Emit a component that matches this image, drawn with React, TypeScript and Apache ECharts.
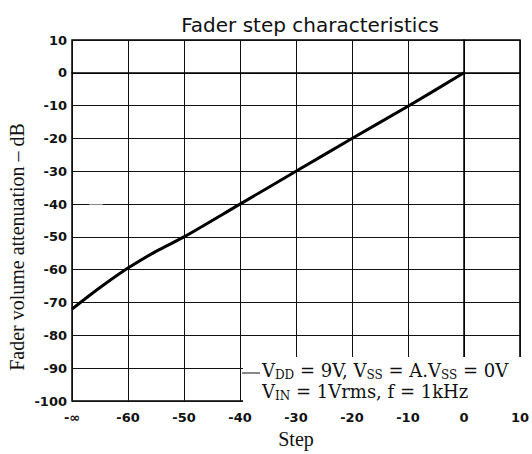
import React, { useEffect, useRef } from "react";
import * as echarts from "echarts";

const steps: number[] = [-70, -67, -64, -60, -55, -50, -40, -30, -20, -10, 0];
const attenuation: number[] = [-72, -68.0, -64.2, -59.5, -54.4, -50, -40, -30, -20, -10.2, 0];
const xTicks = { min: -70, max: 10, interval: 10 };
const yTicks = { min: -100, max: 10, interval: 10 };
const titleText = "Fader step characteristics";
const yName = "Fader volume attenuation \u2013 dB";
const xName = "Step";

export default function App() {
  const ref = useRef<HTMLDivElement>(null);
  useEffect(() => {
    if (!ref.current) return;
    const chart = echarts.init(ref.current, undefined, { renderer: "svg" });
    const tickFont = {
      fontFamily: "DejaVu Sans",
      fontSize: 13,
      fontWeight: "bold" as const,
      color: "#111",
    };
    chart.setOption({
      animation: false,
      backgroundColor: "#fff",
      title: {
        text: titleText,
        left: 305,
        top: 10,
        textAlign: "center",
        textStyle: {
          fontFamily: "DejaVu Sans",
          fontSize: 20,
          fontWeight: "normal",
          color: "#111",
        },
      },
      grid: {
        left: 72,
        right: 7,
        top: 40,
        bottom: 48,
        show: true,
        borderColor: "#000",
        borderWidth: 1.5,
      },
      xAxis: {
        type: "value",
        min: xTicks.min,
        max: xTicks.max,
        interval: xTicks.interval,
        name: xName,
        nameLocation: "middle",
        nameGap: 28,
        nameTextStyle: { fontFamily: "Liberation Serif", fontSize: 20, color: "#111" },
        axisLine: { show: true, lineStyle: { color: "#000", width: 1.5 } },
        axisTick: { show: false },
        axisLabel: {
          ...tickFont,
          margin: 10,
          formatter: (v: number) => (v === xTicks.min ? "-\u221e" : String(v)),
        },
        splitLine: { show: true, lineStyle: { color: "#111", width: 1 } },
      },
      yAxis: {
        type: "value",
        min: yTicks.min,
        max: yTicks.max,
        interval: yTicks.interval,
        axisLine: { show: true, lineStyle: { color: "#000", width: 1.5 } },
        axisTick: { show: false },
        axisLabel: { ...tickFont, margin: 5 },
        splitLine: { show: true, lineStyle: { color: "#111", width: 1 } },
      },
      series: [
        {
          type: "line",
          data: steps.map((s, i) => [s, attenuation[i]]),
          smooth: 0.3,
          showSymbol: false,
          lineStyle: { color: "#000", width: 3 },
          z: 3,
        },
      ],
      graphic: [
        {
          type: "text",
          x: 17,
          y: 247,
          rotation: Math.PI / 2,
          style: {
            text: yName,
            fontFamily: "Liberation Serif",
            fontSize: 20,
            fill: "#111",
            align: "center",
            verticalAlign: "middle",
          },
        },
        {
          type: "rect",
          z: 10,
          shape: { x: 89, y: 204.5, width: 14, height: 3 },
          style: { fill: "#fff", stroke: "none" },
        },
        {
          type: "rect",
          z: 10,
          shape: { x: 243, y: 357, width: 281, height: 48 },
          style: { fill: "#fff", stroke: "none" },
        },
        {
          type: "line",
          z: 11,
          shape: { x1: 242, y1: 373, x2: 260, y2: 373 },
          style: { stroke: "#111", lineWidth: 1 },
        },
        {
          type: "text",
          z: 12,
          x: 262,
          y: 360,
          style: {
            text: "V{sub|DD} = 9V, V{sub|SS} = A.V{sub|SS} = 0V\nV{sub|IN} = 1Vrms, f = 1kHz",
            fontFamily: "DejaVu Serif",
            fontSize: 18,
            lineHeight: 21,
            fill: "#111",
            rich: {
              sub: {
                fontFamily: "DejaVu Serif",
                fontSize: 12,
                lineHeight: 12,
                verticalAlign: "bottom",
                fill: "#111",
              },
            },
          },
        },
      ],
    });
    return () => chart.dispose();
  }, []);
  return (
    <div
      ref={ref}
      style={{ position: "fixed", left: 0, top: 0, width: 532, height: 454 }}
    />
  );
}
